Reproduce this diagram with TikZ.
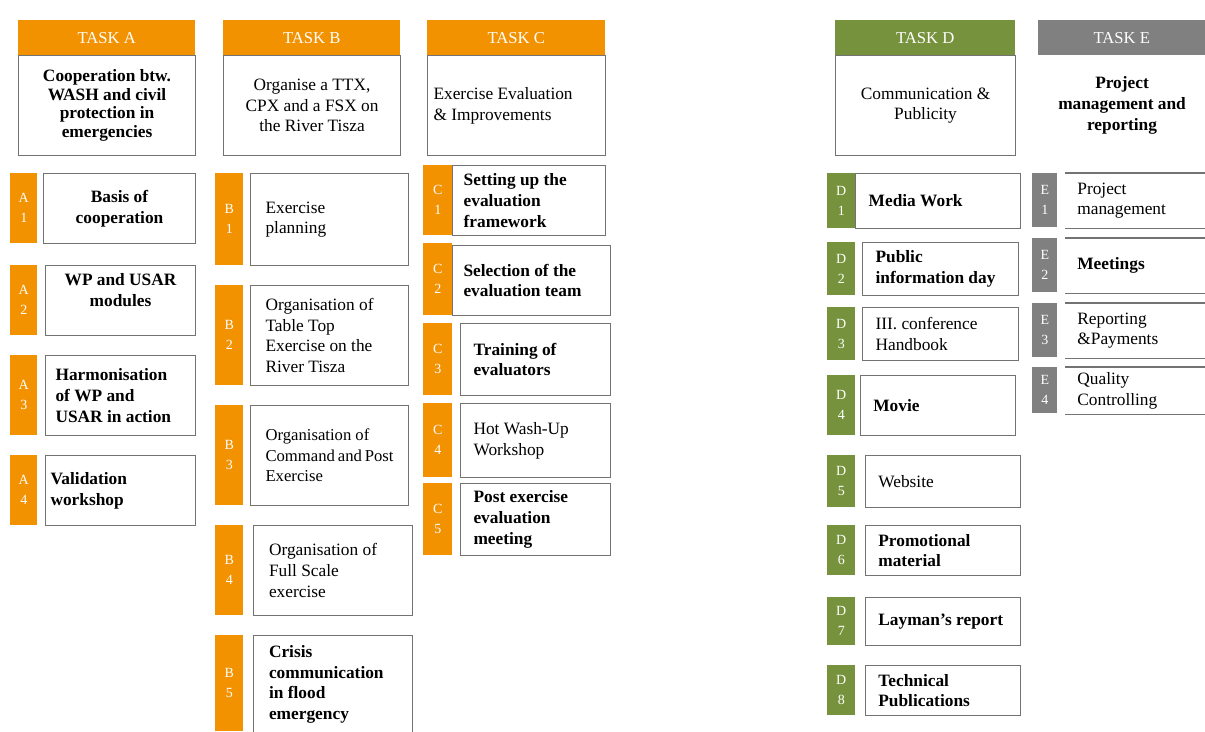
\documentclass[tikz,border=0pt]{standalone}
\usepackage{fontspec}
\setmainfont{Liberation Serif}
\usepackage{tikz}
\definecolor{taskorange}{RGB}{243,146,0}
\definecolor{taskgreen}{RGB}{118,146,60}
\definecolor{taskgray}{RGB}{128,128,128}
\definecolor{framegray}{RGB}{115,115,115}

\begin{document}
\begin{tikzpicture}[x=0.75pt,y=-0.75pt,
  cell/.style n args={4}{at={(#1,#2)},anchor=north west,
    minimum width={(#3-#1)*0.75pt},minimum height={(#4-#2)*0.75pt}},
  bar/.style={fill=#1,inner sep=0pt,text=white,font=\fontsize{12.5}{14}\selectfont},
  tab/.style={fill=#1,inner sep=0pt,text=white,align=center,font=\fontsize{10.5}{15}\selectfont},
  frame/.style={draw=framegray,line width=0.8pt,inner sep=0pt,font=\fontsize{13}{15.5}\selectfont},
  cbox/.style={frame,align=center},
  lbox/.style={frame,text width=#1,align=flush left},
  heavy/.style={font=\fontsize{13}{15.5}\selectfont\bfseries},
  rule/.style={draw=framegray,line width=0.8pt}]
\useasboundingbox (0,0) rectangle (1205,731);
% task A: cooperation
\node[bar=taskorange,cell={18}{20}{195}{55}] (hdrA) {TASK A};
\node[cbox,cell={18}{55}{195}{155},font=\fontsize{13}{14}\selectfont\bfseries] (taskA) {Cooperation btw.\\WASH and civil\\protection in\\emergencies};
\node[tab=taskorange,cell={10}{173}{37}{243}] (tabA1) {A\\1};
\node[cbox,heavy,cell={43}{173}{195}{243}] (wpA1) {Basis of\\cooperation};
\node[tab=taskorange,cell={10}{265}{37}{335}] (tabA2) {A\\2};
\node[cbox,heavy,cell={45}{265}{195}{335}] (wpA2) {WP and USAR\\modules\\~};
\node[tab=taskorange,cell={10}{355}{37}{435}] (tabA3) {A\\3};
\node[lbox=97.5pt,heavy,cell={45}{355}{195}{435}] (wpA3) {Harmonisation\\of WP and\\USAR in action};
\node[tab=taskorange,cell={10}{455}{37}{525}] (tabA4) {A\\4};
\node[lbox=105pt,heavy,cell={45}{455}{195}{525}] (wpA4) {Validation\\workshop};
% task B: exercises on the Tisza
\node[bar=taskorange,cell={223}{20}{400}{55}] (hdrB) {TASK B};
\node[cbox,cell={223}{55}{400}{155}] (taskB) {Organise a TTX,\\CPX and a FSX on\\the River Tisza};
\node[tab=taskorange,cell={215}{173}{243}{265}] (tabB1) {B\\1};
\node[lbox=96pt,cell={250}{173}{408}{265}] (wpB1) {Exercise\\planning};
\node[tab=taskorange,cell={215}{285}{243}{385}] (tabB2) {B\\2};
\node[lbox=96pt,cell={250}{285}{408}{385}] (wpB2) {Organisation of\\Table Top\\Exercise on the\\River Tisza};
\node[tab=taskorange,cell={215}{405}{243}{505}] (tabB3) {B\\3};
\node[lbox=96pt,cell={250}{405}{408}{505},font=\fontsize{12.5}{15.5}\selectfont] (wpB3) {Organisation of\\Command~and~Post\\Exercise};
\node[tab=taskorange,cell={215}{525}{243}{615}] (tabB4) {B\\4};
\node[lbox=96pt,cell={253}{525}{412}{615}] (wpB4) {Organisation of\\Full Scale\\exercise};
\node[tab=taskorange,cell={215}{635}{243}{731}] (tabB5) {B\\5};
\node[lbox=96pt,heavy,cell={253}{635}{412}{733}] (wpB5) {Crisis\\communication\\in flood\\emergency};
% task C: evaluation
\node[bar=taskorange,cell={427}{20}{605}{55}] (hdrC) {TASK C};
\node[lbox=124.5pt,cell={427}{55}{605}{155}] (taskC) {Exercise Evaluation\\\& Improvements};
\node[tab=taskorange,cell={423}{165}{452}{235}] (tabC1) {C\\1};
\node[lbox=98pt,heavy,cell={452}{165}{605}{235}] (wpC1) {Setting up the\\evaluation\\framework};
\node[tab=taskorange,cell={423}{243}{452}{315}] (tabC2) {C\\2};
\node[lbox=102pt,heavy,cell={452}{245}{610}{315}] (wpC2) {Selection of the\\evaluation team};
\node[tab=taskorange,cell={423}{323}{452}{395}] (tabC3) {C\\3};
\node[lbox=93pt,heavy,cell={460}{323}{610}{395}] (wpC3) {Training of\\evaluators};
\node[tab=taskorange,cell={423}{403}{452}{477}] (tabC4) {C\\4};
\node[lbox=93pt,cell={460}{403}{610}{477}] (wpC4) {Hot Wash-Up\\Workshop};
\node[tab=taskorange,cell={423}{483}{452}{555}] (tabC5) {C\\5};
\node[lbox=93pt,heavy,cell={460}{483}{610}{555}] (wpC5) {Post exercise\\evaluation\\meeting};
% task D: communication
\node[bar=taskgreen,cell={835}{20}{1015}{55}] (hdrD) {TASK D};
\node[cbox,cell={835}{55}{1015}{155}] (taskD) {Communication \&\\Publicity};
\node[tab=taskgreen,cell={827}{173}{855}{228}] (tabD1) {D\\1};
\node[lbox=104pt,heavy,cell={855}{173}{1020}{228}] (wpD1) {Media Work};
\node[tab=taskgreen,cell={827}{242}{855}{295}] (tabD2) {D\\2};
\node[lbox=97.5pt,heavy,cell={862}{242}{1018}{295}] (wpD2) {Public\\information day};
\node[tab=taskgreen,cell={827}{307}{855}{360}] (tabD3) {D\\3};
\node[lbox=97.5pt,cell={862}{307}{1018}{360}] (wpD3) {III. conference\\Handbook};
\node[tab=taskgreen,cell={827}{375}{855}{435}] (tabD4) {D\\4};
\node[lbox=97pt,heavy,cell={860}{375}{1015}{435}] (wpD4) {Movie};
\node[tab=taskgreen,cell={827}{455}{855}{507}] (tabD5) {D\\5};
\node[lbox=97pt,cell={865}{455}{1020}{507}] (wpD5) {Website};
\node[tab=taskgreen,cell={827}{525}{855}{575}] (tabD6) {D\\6};
\node[lbox=97pt,heavy,cell={865}{525}{1020}{575}] (wpD6) {Promotional\\material};
\node[tab=taskgreen,cell={827}{597}{855}{645}] (tabD7) {D\\7};
\node[lbox=97pt,heavy,cell={865}{597}{1020}{645}] (wpD7) {Layman's~report};
\node[tab=taskgreen,cell={827}{665}{855}{715}] (tabD8) {D\\8};
\node[lbox=97pt,heavy,cell={865}{665}{1020}{715}] (wpD8) {Technical\\Publications};
% task E: management, open boxes with top and bottom rules only
\node[bar=taskgray,cell={1038}{20}{1205}{55}] (hdrE) {TASK E};
\node[cbox,heavy,draw=none,cell={1038}{55}{1205}{155}] (taskE) {Project\\management and\\reporting};
\node[tab=taskgray,cell={1032}{173}{1057}{227}] (tabE1) {E\\1};
\node[lbox=91pt,draw=none,cell={1065}{173}{1210}{227}] (wpE1) {Project\\management};
\node[tab=taskgray,cell={1032}{238}{1057}{292}] (tabE2) {E\\2};
\node[lbox=91pt,heavy,draw=none,cell={1065}{238}{1210}{292}] (wpE2) {Meetings};
\node[tab=taskgray,cell={1032}{303}{1057}{357}] (tabE3) {E\\3};
\node[lbox=91pt,draw=none,cell={1065}{303}{1210}{357}] (wpE3) {Reporting\\\&Payments};
\node[tab=taskgray,cell={1032}{367}{1057}{413}] (tabE4) {E\\4};
\node[lbox=91pt,draw=none,cell={1065}{367}{1210}{413}] (wpE4) {Quality\\Controlling};
\draw[rule] (wpE1.north west) -- (wpE1.north east) (wpE1.south west) -- (wpE1.south east);
\draw[rule] (wpE2.north west) -- (wpE2.north east) (wpE2.south west) -- (wpE2.south east);
\draw[rule] (wpE3.north west) -- (wpE3.north east) (wpE3.south west) -- (wpE3.south east);
\draw[rule] (wpE4.north west) -- (wpE4.north east) (wpE4.south west) -- (wpE4.south east);
\end{tikzpicture}
\end{document}
